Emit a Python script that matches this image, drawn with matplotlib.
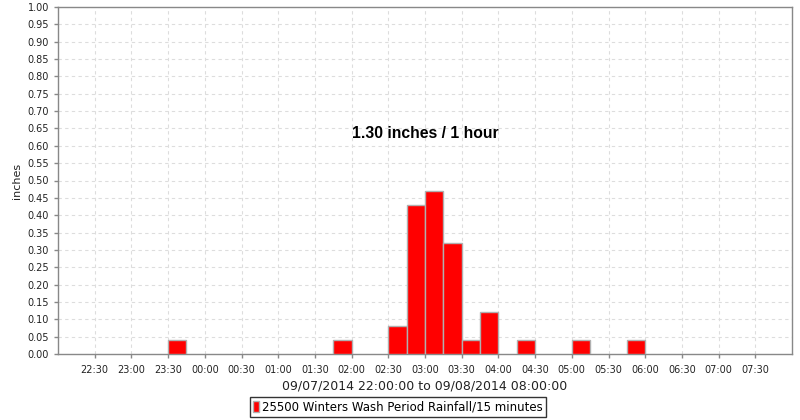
import matplotlib
matplotlib.use("Agg")
import matplotlib.pyplot as plt
from matplotlib.patches import Patch

# Data: 15-minute interval start times and rainfall (inches)
interval_starts = ["23:30", "01:45", "02:30", "02:45", "03:00", "03:15",
                   "03:30", "03:45", "04:15", "05:00", "05:45"]
rainfall = [0.04, 0.04, 0.08, 0.43, 0.47, 0.32, 0.04, 0.12, 0.04, 0.04, 0.04]
tick_labels = ["22:30", "23:00", "23:30", "00:00", "00:30", "01:00", "01:30",
               "02:00", "02:30", "03:00", "03:30", "04:00", "04:30", "05:00",
               "05:30", "06:00", "06:30", "07:00", "07:30"]
series_name = "25500 Winters Wash Period Rainfall/15 minutes"
title_text = "1.30 inches / 1 hour"
x_label = "09/07/2014 22:00:00 to 09/08/2014 08:00:00"


def hours_since_start(label, start_hour=22):
    h, m = map(int, label.split(":"))
    v = h + m / 60.0 - start_hour
    if v < 0:
        v += 24
    return v


x = [hours_since_start(s) for s in interval_starts]
xt = [hours_since_start(s) for s in tick_labels]

plt.rcParams['font.family'] = ['DejaVu Sans']
fig = plt.figure(figsize=(8, 4.2), dpi=100)
ax = fig.add_axes([58 / 800, 66 / 420, (792 - 58) / 800, (354 - 7) / 420])

ax.bar(x, rainfall, width=0.25, align='edge', color='#ff0000',
       edgecolor='#b0b0b0', linewidth=1.0, zorder=3)

ax.set_xlim(0, 10)
ax.set_ylim(0, 1.0)
ax.set_xticks(xt)
ax.set_xticklabels(tick_labels)
yt = [i * 0.05 for i in range(21)]
ax.set_yticks(yt)
ax.set_yticklabels([f"{v:.2f}" for v in yt])
ax.tick_params(axis='both', labelsize=7, colors='#888888', labelcolor='#222222',
               length=3, width=1)
ax.tick_params(axis='x', pad=5)
ax.grid(True, color='#dddddd', linestyle=(0, (3, 3)), linewidth=0.8, zorder=0)
for sp in ax.spines.values():
    sp.set_color('#888888')
    sp.set_linewidth(1.0)

ax.set_ylabel("inches", fontsize=8, color='#222222', labelpad=4)
ax.set_xlabel(x_label, fontsize=9, color='#222222', labelpad=3)

ax.text(0.5, 0.635, title_text, transform=ax.transAxes, ha='center', va='center',
        fontsize=11.3, fontweight='bold', family='Liberation Sans', color='black')

leg = fig.legend(handles=[Patch(facecolor='#ff0000', edgecolor='#b0b0b0')],
                 labels=[series_name], loc='center',
                 bbox_to_anchor=(398 / 800, 1 - 407 / 420), fontsize=8.5,
                 frameon=True, fancybox=False, handlelength=0.5, handleheight=1.0,
                 handletextpad=0.2, borderpad=0.3, borderaxespad=0)
leg.get_frame().set_edgecolor('black')
leg.get_frame().set_linewidth(1.0)

fig.savefig("out.png", dpi=100)
